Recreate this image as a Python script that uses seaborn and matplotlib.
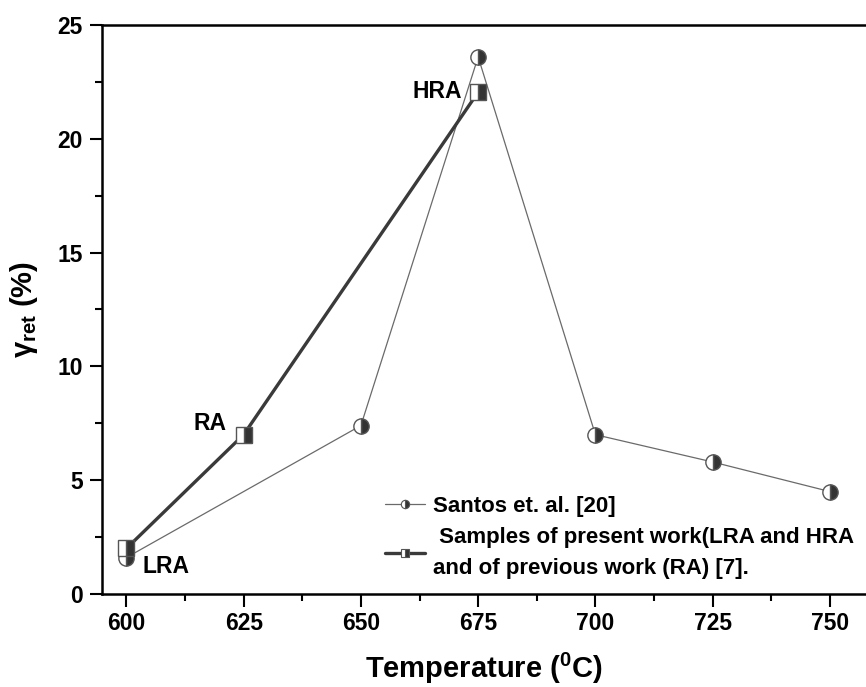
import matplotlib
matplotlib.use("Agg")
import matplotlib.pyplot as plt
from matplotlib.lines import Line2D
from matplotlib.ticker import MultipleLocator
import seaborn as sns
import pandas as pd

# Retained austenite vs. tempering temperature
santos_temp = [600, 650, 675, 700, 725, 750]
santos_gamma = [1.6, 7.4, 23.6, 7.0, 5.8, 4.5]

samples_temp = [600, 625, 675]
samples_gamma = [2.0, 7.0, 22.05]
samples_names = ["LRA", "RA", "HRA"]

legend_labels = ["Santos et. al. [20]",
                 " Samples of present work(LRA and HRA\nand of previous work (RA) [7]."]

sns.set_style("ticks")
plt.rcParams["font.family"] = ["Liberation Sans", "DejaVu Sans"]
plt.rcParams["font.weight"] = "bold"
plt.rcParams["text.color"] = "black"
plt.rcParams["axes.labelcolor"] = "black"
plt.rcParams["xtick.color"] = "black"
plt.rcParams["ytick.color"] = "black"
plt.rcParams["mathtext.fontset"] = "custom"
plt.rcParams["mathtext.rm"] = "Liberation Sans:bold"
plt.rcParams["mathtext.it"] = "Liberation Sans:bold"
plt.rcParams["mathtext.bf"] = "Liberation Sans:bold"

fig = plt.figure(figsize=(8.66, 6.87), dpi=100)
ax = fig.add_axes([0.1178, 0.1354, 0.8822, 0.8282])

santos = pd.DataFrame({"T": santos_temp, "g": santos_gamma})
samples = pd.DataFrame({"T": samples_temp, "g": samples_gamma})

sns.lineplot(data=santos, x="T", y="g", ax=ax, color="#6a6a6a", linewidth=0.9,
             marker="o", markersize=11, fillstyle="right",
             markerfacecolor="#333333", markerfacecoloralt="white",
             markeredgecolor="#555555", markeredgewidth=1.0, zorder=2)
sns.lineplot(data=samples, x="T", y="g", ax=ax, color="#3a3a3a", linewidth=2.4,
             marker="s", markersize=12, fillstyle="right",
             markerfacecolor="#333333", markerfacecoloralt="white",
             markeredgecolor="#555555", markeredgewidth=1.0, zorder=3)

# point annotations
offsets = {"LRA": (3.4, 1.2, "left"), "RA": (-3.7, 7.5, "right"), "HRA": (-3.4, 22.1, "right")}
for name, t, g in zip(samples_names, samples_temp, samples_gamma):
    dx, y, ha = offsets[name]
    ax.text(t + dx, y, name, ha=ha, va="center", fontsize=16.5, fontweight="bold")

ax.set_xlim(594.8, 757.7)
ax.set_ylim(0, 25)
ax.xaxis.set_major_locator(MultipleLocator(25))
ax.xaxis.set_minor_locator(MultipleLocator(12.5))
ax.yaxis.set_major_locator(MultipleLocator(5))
ax.yaxis.set_minor_locator(MultipleLocator(2.5))
ax.tick_params(which="major", direction="out", length=9, width=1.5, labelsize=16.5, pad=5)
ax.tick_params(axis="x", which="major", pad=4)
ax.tick_params(which="minor", direction="out", length=5, width=1.5)
for lbl in ax.get_xticklabels() + ax.get_yticklabels():
    lbl.set_fontweight("bold")

for side in ["left", "bottom", "top"]:
    ax.spines[side].set_visible(True)
    ax.spines[side].set_linewidth(1.8)
    ax.spines[side].set_color("black")
ax.spines["right"].set_visible(False)

ax.set_xlabel("Temperature ($^{0}$C)", fontsize=21, fontweight="bold", labelpad=11)
ax.set_ylabel(r"$\gamma_{ret}$ (%)", fontsize=21, fontweight="bold", labelpad=12)

handles = [
    Line2D([], [], color="#6a6a6a", linewidth=0.9, marker="o", markersize=6,
           fillstyle="right", markerfacecolor="#333333", markerfacecoloralt="white",
           markeredgecolor="#555555", markeredgewidth=0.8),
    Line2D([], [], color="#3a3a3a", linewidth=2.4, marker="s", markersize=6,
           fillstyle="right", markerfacecolor="#333333", markerfacecoloralt="white",
           markeredgecolor="#555555", markeredgewidth=0.8),
]
leg = ax.legend(handles, legend_labels, loc="upper left",
                bbox_to_anchor=(385 / 866, 1 - 496 / 687), bbox_transform=fig.transFigure,
                frameon=False, fontsize=16, handlelength=1.8, handletextpad=0.35,
                labelspacing=0.45, borderpad=0, borderaxespad=0)
for t in leg.get_texts():
    t.set_fontweight("bold")
    t.set_linespacing(1.6)

fig.savefig("out.png", dpi=100, facecolor="white")
